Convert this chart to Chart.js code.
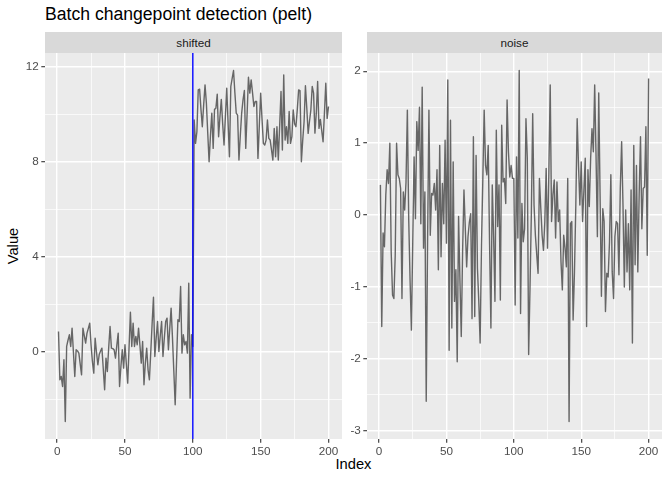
<!DOCTYPE html>
<html><head><meta charset="utf-8">
<script src="https://cdn.jsdelivr.net/npm/chart.js@4"></script>
<style>
html,body{margin:0;padding:0;background:#fff;width:672px;height:480px;overflow:hidden;font-family:"Liberation Sans",Arial,sans-serif;}
canvas{position:absolute;left:0;top:0;}
.t{position:absolute;white-space:nowrap;}
.strip{position:absolute;top:32px;height:21px;background:#D9D9D9;color:#1A1A1A;font-size:11.7px;display:flex;align-items:center;justify-content:center;}
</style></head><body>
<div class="t" style="left:45px;top:6px;font-size:17.6px;line-height:17.6px;color:#000;">Batch changepoint detection (pelt)</div>
<div class="strip" style="left:45px;width:297px;">shifted</div>
<div class="strip" style="left:367px;width:295px;">noise</div>
<div class="t" style="left:0;top:457px;width:672px;padding-left:35px;box-sizing:border-box;text-align:center;font-size:14.7px;line-height:14.7px;color:#000;">Index</div>
<div class="t" style="left:-7px;top:238px;width:40px;text-align:center;font-size:14.7px;line-height:16px;color:#000;transform:rotate(-90deg);">Value</div>
<canvas id="c1" width="672" height="480"></canvas>
<canvas id="c2" width="672" height="480"></canvas>
<script>
// ---- data ----
const panelNames = ["shifted", "noise"];
const shiftedValues = [
0.87,-1.16,-1.02,-1.44,-0.32,-2.91,0.24,0.5,0.73,0.24,
1.01,0.0,-1.02,0.10,0.05,-0.04,-0.5,-0.95,1.01,0.7,
0.38,0.8,1.0,1.22,0.3,-0.4,-0.88,0.59,0.0,-0.53,
-0.1,0.05,0.17,-0.7,-1.58,-0.25,-0.81,0.2,1.08,0.17,
0.15,0.10,-0.25,0.3,0.80,-1.44,-0.6,0.10,-0.67,0.31,
-0.5,-1.30,0.2,1.68,0.24,1.22,0.24,0.66,0.31,1.01,
0.3,-0.46,0.45,-1.37,-0.46,0.17,-0.74,-1.16,0.0,1.2,
2.31,-0.18,0.6,1.29,0.03,0.7,1.29,-0.18,0.6,1.29,
1.43,0.10,1.0,1.85,0.6,-0.8,-2.21,-0.4,1.36,1.29,
2.76,-0.04,0.73,0.31,0.45,-0.04,2.90,-1.93,0.73,0.24,
9.75,8.77,9.26,11.02,11.05,10.2,9.47,10.4,11.23,10.46,
9.2,8.0,9.1,10.04,8.56,10.20,10.25,10.84,9.05,9.9,
10.62,9.6,8.70,9.9,11.09,9.6,8.21,11.16,11.5,11.83,
10.9,10.04,9.96,8.07,9.1,10.04,10.6,10.99,8.56,10.0,
11.55,10.88,11.44,10.9,10.32,10.53,10.53,8.14,9.5,10.88,
9.8,8.77,8.70,8.91,9.75,8.98,8.91,8.5,8.07,9.40,
8.21,9.47,8.07,9.5,10.95,8.49,11.65,8.91,9.47,8.77,
10.11,8.77,9.05,10.18,9.6,9.47,10.2,11.02,10.99,8.0,8.9,
9.68,11.19,10.25,9.19,9.7,10.18,11.16,10.88,9.2,10.04,11.37,
9.40,9.78,9.3,8.84,10.04,11.30,9.82,10.32
];
const noiseValues = [
0.42,-1.55,-0.25,-0.44,0.28,0.63,0.44,1.00,-0.51,-1.11,
-1.16,-0.56,1.00,0.56,0.51,0.37,-1.16,0.32,0.07,0.46,
1.46,-0.05,-0.9,-1.60,-0.37,0.81,-0.05,1.30,0.90,1.50,
-0.12,1.78,-0.46,0.32,-2.59,-0.37,1.46,-0.28,0.30,0.28,
0.44,0.07,0.63,-0.76,0.97,-0.58,0.44,-0.12,1.04,-0.39,
1.88,-1.88,1.32,-1.57,0.74,-1.20,-0.76,-2.04,-0.02,-0.9,
-1.69,-0.5,0.35,-0.19,-0.72,-0.3,-0.1,0.02,-1.44,1.09,-1.41,
0.83,-0.74,-1.2,-1.78,-0.42,0.5,1.46,0.69,0.56,0.97,
-0.4,-1.57,0.42,-0.3,-1.20,1.18,-0.16,0.42,-1.18,1.25,
0.46,0.51,0.16,1.60,0.88,0.53,0.69,0.51,0.51,
-1.25,0.81,-0.32,2.01,-1.37,0.16,-0.37,-0.19,1.34,0.79,
-1.94,-1.02,0.02,1.41,0.14,-0.28,-0.55,-0.81,0.51,0.1,
-0.28,-0.49,-0.09,0.65,-0.46,0.6,1.81,-0.09,0.28,0.49,
-0.32,0.46,-0.09,0.07,-0.65,-1.04,-0.28,-0.46,-0.72,0.51,
-2.87,-0.12,-0.09,-1.46,-0.79,0.14,1.34,0.69,0.14,0.74,
-0.09,0.35,0.79,-1.55,0.63,0.12,0.79,1.20,0.88,1.81,
0.83,-0.30,1.70,0.28,-1.13,0.09,-0.09,-1.34,-0.81,-0.86,
-0.37,0.56,-0.79,-1.16,-0.30,-0.09,-0.12,-0.83,0.37,1.02,
0.14,-1.00,0.07,-0.79,-0.12,-1.04,0.35,-1.78,0.97,-0.69,
0.69,-0.79,0.28,1.09,-0.19,0.37,0.39,1.23,-0.56,1.90
];
const changepointsShifted = [100];
const changepointsNoise = [];
const xMajorTicks = [0, 50, 100, 150, 200];
const xMinorTicks = [25, 75, 125, 175];
const shiftedMajorTicks = [0, 4, 8, 12];
const shiftedMinorTicks = [-2, 2, 6, 10];
const noiseMajorTicks = [-3, -2, -1, 0, 1, 2];
const noiseMinorTicks = [-2.5, -1.5, -0.5, 0.5, 1.5];

// ---- helpers ----
function expandRange(arr){
  const mn = Math.min(...arr), mx = Math.max(...arr), d = (mx - mn) * 0.05;
  return [mn - d, mx + d];
}
function toPoints(vals){ return vals.map((v,i)=>({x:i+1, y:v})); }
function tickList(major, minor){
  return major.map(v=>({value:v, minorTick:false}))
    .concat(minor.map(v=>({value:v, minorTick:true})))
    .sort((a,b)=>a.value-b.value);
}
const bgPlugin = {
  id:'panelBg',
  beforeDraw(chart){
    const a = chart.chartArea, c = chart.ctx;
    c.save(); c.fillStyle = '#EBEBEB';
    c.fillRect(a.left, a.top, a.right-a.left, a.bottom-a.top);
    c.restore();
  }
};
const vlinePlugin = {
  id:'vlines',
  afterDatasetsDraw(chart, args, opts){
    const a = chart.chartArea, c = chart.ctx, xs = chart.scales.x;
    (opts.values||[]).forEach(v=>{
      const px = xs.getPixelForValue(v);
      c.save(); c.strokeStyle = '#0000FF'; c.lineWidth = 1.4;
      c.beginPath(); c.moveTo(px, a.top); c.lineTo(px, a.bottom); c.stroke();
      c.restore();
    });
  }
};

function axisCommon(ticks, fitFn){
  return {
    type:'linear',
    afterBuildTicks(s){ s.ticks = ticks.map(t=>({value:t.value, minorTick:t.minorTick})); },
    afterFit: fitFn,
    border:{display:false},
    grid:{
      color:'#FFFFFF',
      lineWidth:(ctx)=> (ctx.tick && ctx.tick.minorTick) ? 0.7 : 1.4,
      drawTicks:true, tickLength:3.7,
      tickColor:(ctx)=> (ctx.tick && ctx.tick.minorTick) ? 'rgba(0,0,0,0)' : '#333333',
      tickWidth:1.1
    },
    ticks:{
      autoSkip:false, maxRotation:0, minRotation:0, padding:2.5,
      color:'#4D4D4D',
      font:{family:'"Liberation Sans", Arial, sans-serif', size:11.7},
      callback:function(value, index){
        const t = this.ticks[index];
        return (t && t.minorTick) ? '' : String(value);
      }
    }
  };
}

function makeChart(id, vals, yMajor, yMinor, padLeft, padRight, yWidth, cps){
  const xr = expandRange([1, vals.length]);
  const yr = expandRange(vals);
  const xAxis = axisCommon(tickList(xMajorTicks, xMinorTicks), s=>{ s.height = 41; });
  xAxis.min = xr[0]; xAxis.max = xr[1];
  const yAxis = axisCommon(tickList(yMajor, yMinor), s=>{ s.width = yWidth; });
  yAxis.min = yr[0]; yAxis.max = yr[1];
  return new Chart(document.getElementById(id), {
    type:'line',
    data:{ datasets:[{ data: toPoints(vals), borderColor:'#666666', borderWidth:1.4,
      pointRadius:0, tension:0, fill:false, borderJoinStyle:'round' }] },
    options:{
      responsive:false, animation:false, devicePixelRatio:1,
      layout:{ padding:{ left:padLeft, right:padRight, top:53, bottom:0 } },
      plugins:{ legend:{display:false}, tooltip:{enabled:false}, title:{display:false},
        vlines:{ values: cps } },
      scales:{ x:xAxis, y:yAxis }
    },
    plugins:[bgPlugin, vlinePlugin]
  });
}

makeChart('c1', shiftedValues, shiftedMajorTicks, shiftedMinorTicks, 0, 330, 45, changepointsShifted);
makeChart('c2', noiseValues, noiseMajorTicks, noiseMinorTicks, 345, 10, 22, changepointsNoise);
</script>
</body></html>
